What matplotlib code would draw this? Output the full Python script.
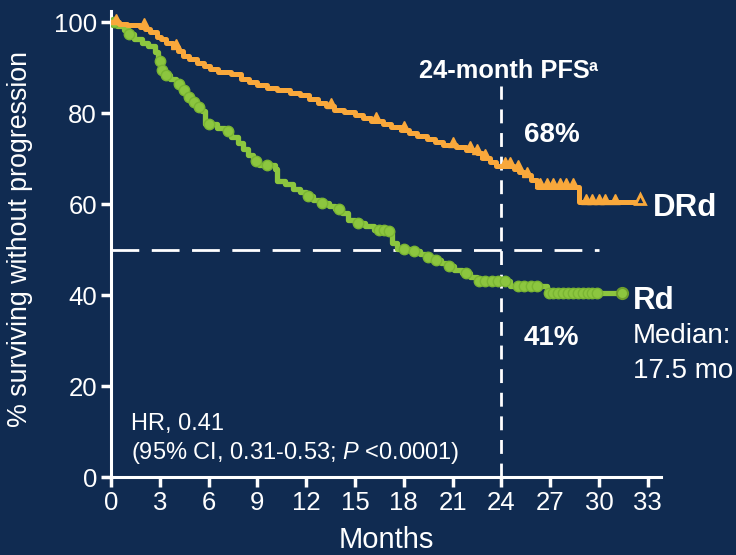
import numpy as np
import matplotlib
matplotlib.use("Agg")
import matplotlib.pyplot as plt

# ---------------- data ----------------
drd_times = [0, 0.5, 1.0, 1.8, 2.1, 2.4, 2.8, 3.1, 3.4, 3.8, 4.1, 4.4, 4.8, 5.3, 5.7, 6.1,
             6.6, 7.4, 8.0, 8.5, 9.0, 9.6, 10.2, 11.0, 11.6, 12.2, 12.7, 13.2, 13.7, 14.3,
             15.0, 15.5, 16.0, 16.7, 17.2, 17.8, 18.3, 18.8, 19.4, 19.9, 20.4, 21.2, 21.8,
             22.5, 22.8, 23.3, 23.7, 24.8, 25.1, 25.4, 25.8, 26.2, 28.8, 32.5]
drd_surv = [100, 99.6, 99.3, 99, 98.5, 97.8, 96.8, 96.2, 95.5, 94.5, 93.6, 92.5, 91.8, 91,
            90.3, 89.6, 89.0, 88.5, 87.6, 86.8, 86.2, 85.6, 85, 84.5, 84, 83.2, 82.3, 81.5,
            80.7, 80.2, 79.6, 78.9, 78.3, 77.5, 77.0, 76.3, 75.6, 75.0, 74.4, 73.6, 72.9,
            72.5, 72.0, 71.3, 70.2, 69.3, 68.4, 67.8, 67.0, 66.3, 65.3, 63.8, 60.4, 60.4]
drd_censor = [0.3, 2.0, 4.0, 13.5, 16.3, 18.0, 21.0, 22.1, 22.5, 23.0, 24.2, 24.5, 25.0,
              25.6, 26.4, 26.8, 27.2, 27.6, 28.0, 28.4, 29.2, 29.6, 30.0, 30.4, 31.0]
drd_last = 32.5

rd_times = [0, 0.4, 0.8, 1.1, 1.4, 1.9, 2.3, 2.7, 2.9, 3.05, 3.3, 3.6, 4.0, 4.3, 4.6, 4.9,
            5.3, 5.6, 5.75, 6.5, 7.0, 7.4, 7.8, 8.1, 8.4, 8.7, 9.1, 10.1, 10.2, 10.7, 11.2,
            11.6, 12.0, 12.4, 12.9, 13.4, 13.8, 14.2, 14.6, 15.0, 15.6, 16.2, 16.9, 17.3,
            17.6, 18.4, 19.0, 19.5, 19.9, 20.3, 20.7, 21.1, 21.6, 22.1, 22.5, 24.5, 26.8,
            31.4]
rd_surv = [100, 99.2, 98.3, 97.5, 96.3, 95.5, 94.8, 93.5, 91.5, 89.5, 88.3, 87.5, 86.3, 85,
           83.5, 82.5, 81.3, 80.4, 77.5, 76.8, 76, 74.8, 73.5, 72.2, 70.8, 69.5, 68.5, 67.8,
           65, 64.4, 63.4, 62.6, 61.8, 61, 60.3, 59.6, 58.9, 58, 56.5, 55.8, 55.2, 54.4,
           54.1, 51.5, 50.2, 49.6, 49.0, 48.4, 47.8, 47.1, 46.4, 45.6, 44.8, 44.0, 43.2,
           41.9, 40.5, 40.5]
rd_censor = [0.2, 1.1, 3.0, 3.15, 3.4, 4.2, 4.5, 4.8, 5.1, 5.4, 6.0, 7.2, 8.9, 9.6, 12.1,
             13.0, 14.0, 15.2, 16.5, 16.8, 17.1, 18.0, 18.6, 19.5, 20.0, 20.8, 21.8, 22.6,
             23.0, 23.4, 23.8, 24.2, 25.0, 25.4, 25.8, 26.2, 26.9, 27.2, 27.5, 27.8, 28.1,
             28.4, 28.7, 29.0, 29.3, 29.6, 29.9]
rd_last = 31.4

x_ticks = [0, 3, 6, 9, 12, 15, 18, 21, 24, 27, 30, 33]
y_ticks = [0, 20, 40, 60, 80, 100]
landmark_month = 24
median_level = 50

# ---------------- style ----------------
BG = "#102B51"
ORANGE = "#F9A83B"
GREEN = "#8CC63F"
WHITE = "white"
plt.rcParams['font.family'] = ['Liberation Sans', 'DejaVu Sans']
plt.rcParams['mathtext.fontset'] = 'custom'
plt.rcParams['mathtext.rm'] = 'Liberation Sans'
plt.rcParams['mathtext.it'] = 'Liberation Sans:italic'
plt.rcParams['mathtext.bf'] = 'Liberation Sans:bold'

fig = plt.figure(figsize=(7.36, 5.55), dpi=100, facecolor=BG)
ax = fig.add_axes([0.1508, 0.1405, 0.747, 0.836])
ax.set_facecolor(BG)


def surv_at(times, surv, t):
    i = np.searchsorted(np.asarray(times), t, side='right') - 1
    return np.asarray(surv)[max(i, 0)]


# reference lines
ax.plot([0, 30], [median_level, median_level], color=WHITE, lw=2,
        dashes=(10, 4.5), zorder=2)
ax.plot([landmark_month, landmark_month], [0, 86], color=WHITE, lw=2,
        dashes=(5, 3.5), zorder=2)

# Rd curve
ax.step(rd_times, rd_surv, where='post', color=GREEN, lw=3.8, zorder=3)
ax.plot(rd_censor, [surv_at(rd_times, rd_surv, t) for t in rd_censor], 'o',
        color=GREEN, mec="#7AB533", mew=1.0, ms=7.5, zorder=3)
ax.plot([rd_last], [surv_at(rd_times, rd_surv, rd_last)], 'o', mfc=GREEN,
        mec="#6E9F2C", mew=1.5, ms=8, zorder=3)

# DRd curve
ax.step(drd_times, drd_surv, where='post', color=ORANGE, lw=3.6, zorder=4)
ax.plot(drd_censor, [surv_at(drd_times, drd_surv, t) + 0.8 for t in drd_censor], '^',
        color=ORANGE, mfc=ORANGE, mec=ORANGE, ms=6.5, zorder=4)
ax.plot([drd_last], [surv_at(drd_times, drd_surv, drd_last) + 0.8], '^',
        mfc=BG, mec=ORANGE, mew=2, ms=7, zorder=4)

ax.set_xlim(0, 33.8)
ax.set_ylim(0, 102)
ax.set_xticks(x_ticks)
ax.set_yticks(y_ticks)

for s in ['top', 'right']:
    ax.spines[s].set_visible(False)
for s in ['left', 'bottom']:
    ax.spines[s].set_color(WHITE)
    ax.spines[s].set_linewidth(2.2)
ax.spines['left'].set_bounds(0, 102.5)
ax.spines['bottom'].set_bounds(-0.45, 33.8)

ax.tick_params(axis='both', colors=WHITE, direction='out', length=7, width=2.5,
               labelsize=18.5, labelcolor=WHITE, pad=3)

ax.set_xlabel("Months", color=WHITE, fontsize=21, labelpad=8)
ax.set_ylabel("% surviving without progression", color=WHITE, fontsize=19.3)
ax.yaxis.set_label_coords(-0.142, 0.513)

# annotations
ax.text(18.93, 87.7, "24-month PFS", color=WHITE, fontsize=18.3,
        fontweight='bold', ha='left', va='baseline')
ax.text(29.35, 89.3, "a", color=WHITE, fontsize=11.5,
        fontweight='bold', ha='left', va='baseline')
ax.text(27.1, 75.2, "68%", color=WHITE, fontsize=20, fontweight='bold',
        ha='center', va='center')
ax.text(27.1, 30.5, "41%", color=WHITE, fontsize=20, fontweight='bold',
        ha='center', va='center')
ax.text(33.3, 59.1, "DRd", color=WHITE, fontsize=22.5, fontweight='bold',
        ha='left', va='center')
ax.text(32.1, 38.6, "Rd", color=WHITE, fontsize=22.5, fontweight='bold',
        ha='left', va='center')
ax.text(32.1, 31.0, "Median:", color=WHITE, fontsize=20, ha='left', va='center',
        clip_on=False)
ax.text(32.1, 23.2, "17.5 mo", color=WHITE, fontsize=20, ha='left', va='center',
        clip_on=False)
ax.text(1.2, 11.6, "HR, 0.41", color=WHITE, fontsize=17, ha='left', va='center')
ax.text(1.2, 5.2, "(95% CI, 0.31-0.53; $\\mathit{P}$ <0.0001)", color=WHITE,
        fontsize=17, ha='left', va='center')

fig.savefig("out.png", dpi=100, facecolor=BG)
